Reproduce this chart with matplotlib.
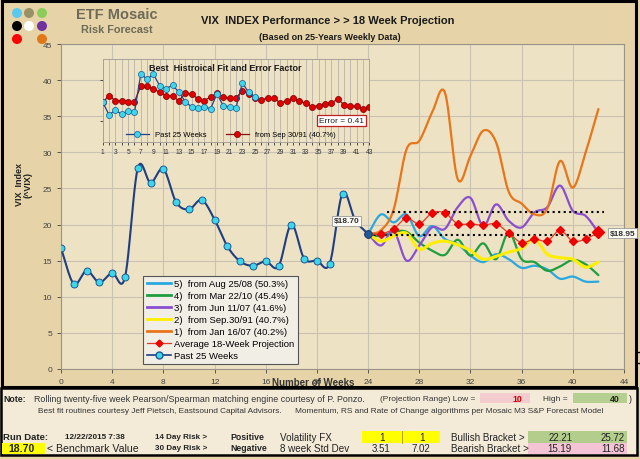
import numpy as np
import matplotlib.pyplot as plt
from matplotlib.patches import Rectangle, Circle
from matplotlib.lines import Line2D

plt.rcParams['font.family'] = ['Liberation Sans', 'DejaVu Sans']

W, H = 640, 460

# 过去25周 VIX
past_weeks = list(range(0, 25))
past_vix = [16.7, 11.8, 13.6, 12.0, 13.3, 12.7, 27.8, 25.8, 27.7, 23.1, 22.1, 23.4, 20.7,
            17.0, 14.9, 14.3, 14.9, 14.2, 20.0, 15.3, 15.0, 14.6, 24.3, 20.6, 18.7]

# 18周预测 (第24周到第42周)
proj_weeks = list(range(24, 43))
proj_aug0825 = [18.7, 21.4, 20.3, 21.4, 18.4, 19.8, 18.0, 17.3, 15.7, 14.8, 15.9, 15.2,
                14.0, 14.3, 13.8, 12.5, 12.8, 12.1, 12.1]
proj_mar2210 = [18.7, 18.4, 19.0, 19.0, 17.5, 16.4, 15.8, 17.9, 15.7, 17.4, 15.2, 18.9,
                15.2, 14.8, 13.6, 14.2, 15.1, 14.5, 13.0]
proj_jun1107 = [18.7, 17.1, 19.1, 15.0, 17.1, 19.6, 19.4, 22.4, 23.7, 19.8, 22.8, 20.5,
                19.6, 21.7, 22.4, 25.4, 21.9, 21.2, 18.9]
proj_sep3091 = [18.7, 17.7, 18.4, 18.8, 16.6, 17.4, 17.7, 17.2, 16.4, 15.2, 15.6, 16.2,
                16.7, 18.0, 15.9, 15.4, 15.2, 14.1, 14.8]
proj_jan1607 = [18.7, 19.2, 22.1, 30.4, 31.6, 35.5, 38.3, 26.3, 29.5, 33.0, 31.4, 24.5,
                22.9, 21.4, 22.2, 28.8, 25.1, 30.0, 36.0]
proj_avg = [18.7, 18.7, 19.4, 20.9, 20.1, 21.6, 21.6, 20.1, 20.1, 19.9, 20.1, 18.8,
            17.5, 18.0, 17.7, 19.2, 17.7, 18.0, 18.95]

upper_band = 21.8
lower_band = 18.6

legend_labels = ['5)  from Aug 25/08 (50.3%)', '4)  from Mar 22/10 (45.4%)',
                 '3)  from Jun 11/07 (41.6%)', '2)  from Sep.30/91 (40.7%)',
                 '1)  from Jan 16/07 (40.2%)']
line_colors = ['#2aa8e0', '#1f9e3e', '#8a4fd0', '#ffee00', '#e8751a']

# 小图：历史最佳拟合
fit_weeks = list(range(1, 44))
fit_sep3091 = [16.7, 19.3, 17.3, 17.3, 16.9, 16.9, 23.0, 23.0, 22.0, 20.6, 19.3, 19.1, 17.3,
               20.2, 20.0, 18.0, 17.3, 18.9, 20.2, 18.7, 18.3, 18.4, 21.2, 20.0, 18.3, 17.6,
               18.4, 18.4, 16.3, 17.3, 18.4, 17.1, 16.3, 15.0, 15.4, 16.0, 16.3, 18.0, 15.8,
               15.1, 15.1, 14.1, 14.7]
fit_error = 0.41


def smooth(x, y, n=12):
    # Catmull-Rom 平滑曲线 (类似Excel平滑线)
    x = np.asarray(x, float)
    y = np.asarray(y, float)
    ex = np.concatenate([[2 * x[0] - x[1]], x, [2 * x[-1] - x[-2]]])
    ey = np.concatenate([[2 * y[0] - y[1]], y, [2 * y[-1] - y[-2]]])
    t = np.linspace(0, 1, n, endpoint=False)
    xs, ys = [], []
    for i in range(1, len(ex) - 2):
        for arr, out in ((ex, xs), (ey, ys)):
            a0, a1, a2, a3 = arr[i - 1:i + 3]
            out.extend(0.5 * (2 * a1 + (-a0 + a2) * t + (2 * a0 - 5 * a1 + 4 * a2 - a3) * t ** 2
                              + (-a0 + 3 * a1 - 3 * a2 + a3) * t ** 3))
    xs.append(x[-1])
    ys.append(y[-1])
    return np.array(xs), np.array(ys)


def fx(px):
    return px / W


def fy(py):
    return 1 - py / H


fig = plt.figure(figsize=(6.4, 4.6), dpi=100)
fig.patch.set_facecolor('#e6d4a8')

# 背景层 (像素坐标)
bg = fig.add_axes([0, 0, 1, 1], zorder=0)
bg.set_xlim(0, W)
bg.set_ylim(H, 0)
bg.axis('off')
bg.add_patch(Rectangle((2, 2), 634, 386, fill=False, ec='black', lw=2.2))
bg.add_patch(Rectangle((1, 389), 636, 66.5, fc='#f3ebd8', ec='black', lw=1.8))
bg.plot([636, 640], [353, 353], color='black', lw=1)
bg.plot([636, 640], [364, 364], color='black', lw=1)

# logo 圆点
dots = [('#5bc8f0', 17, 14), ('#9a9068', 29, 14), ('#8ccc58', 42, 14),
        ('#000000', 17, 27), ('#ffffff', 29, 27), ('#7030a0', 42, 27),
        ('#ff0000', 17, 40), ('#e07818', 42, 40)]
for c, x, y in dots:
    bg.add_patch(Circle((x, y), 5, fc=c, ec='none'))

bg.text(117, 15, 'ETF Mosaic', fontsize=10.5, fontweight='bold', color='#6e6a58',
        ha='center', va='center')
bg.text(117, 30, 'Risk Forecast', fontsize=7.8, fontweight='bold', color='#6e6a58',
        ha='center', va='center')
bg.text(328, 21, 'VIX  INDEX Performance > > 18 Week Projection', fontsize=8, fontweight='bold',
        color='#1a1a1a', ha='center', va='center')
bg.text(330, 37, '(Based on 25-Years Weekly Data)', fontsize=6.5, fontweight='bold',
        color='#1a1a1a', ha='center', va='center')

# 主图
ax = fig.add_axes([fx(61), fy(370), fx(624 - 61), (370 - 45) / H], zorder=1)
ax.set_facecolor('#eee2c4')
ax.set_xlim(0, 44)
ax.set_ylim(0, 45)
ax.set_xticks(range(0, 45, 4))
ax.set_yticks(range(0, 46, 5))
ax.grid(True, color='#c9c1b2', lw=0.8)
ax.set_axisbelow(True)
for s in ax.spines.values():
    s.set_color('#9a9488')
ax.tick_params(labelsize=6, colors='#444444', length=3, width=0.6)

handles = []
for vals, c, lab in zip([proj_aug0825, proj_mar2210, proj_jun1107, proj_sep3091, proj_jan1607],
                        line_colors, legend_labels):
    sx, sy = smooth(proj_weeks, vals)
    lw = 2.2 if c == '#ffee00' else 1.6
    ax.plot(sx, sy, color=c, lw=lw, zorder=3, solid_capstyle='round')
    handles.append(Line2D([], [], color=c, lw=2.0, label=lab))

ax.plot([25.5, 42.4], [upper_band, upper_band], ls=':', color='black', lw=1.5, zorder=4)
ax.plot([24, 42], [lower_band, lower_band], ls=':', color='black', lw=1.5, zorder=4)

sx, sy = smooth(proj_weeks, proj_avg)
ax.plot(sx, sy, color='#e03a28', lw=0.9, zorder=5)
ax.plot(proj_weeks, proj_avg, ls='none', marker='D', ms=4.5, color='#ee0000', zorder=6)
ax.plot(proj_weeks[-1], proj_avg[-1], ls='none', marker='D', ms=6.5, color='#ee0000', zorder=6)
handles.append(Line2D([], [], color='#e03a28', lw=0.9, marker='D', ms=3.5, mfc='#ee0000',
                      mec='#ee0000', label='Average 18-Week Projection'))

sx, sy = smooth(past_weeks, past_vix)
ax.plot(sx, sy, color='#1f3f80', lw=1.5, zorder=5)
ax.plot(past_weeks[:-1], past_vix[:-1], ls='none', marker='o', ms=5, mfc='#3fd6ea',
        mec='#1a5a96', mew=0.7, zorder=6)
ax.plot(past_weeks[-1], past_vix[-1], ls='none', marker='o', ms=5.5, mfc='#1f5a9a',
        mec='#173e6e', mew=0.7, zorder=7)
handles.append(Line2D([], [], color='#1f3f80', lw=1.2, marker='o', ms=5, mfc='#3fd6ea',
                      mec='#1a5a96', label='Past 25 Weeks'))

lbl = dict(boxstyle='square,pad=0.2', fc='#fbfaf5', ec='#9a9a9a', lw=0.6)
ax.text(22.3, 20.5, '$18.70', fontsize=6, fontweight='bold', color='#333333',
        ha='center', va='center', bbox=lbl, zorder=8)
ax.text(43.9, 18.8, '$18.95', fontsize=6, fontweight='bold', color='#333333',
        ha='center', va='center', bbox=lbl, zorder=8, clip_on=False)

leg = ax.legend(handles=handles, loc='upper left', bbox_to_anchor=(0.137, 0.302), fontsize=6.8,
                frameon=True, fancybox=False, edgecolor='#555555', framealpha=1,
                handlelength=2.6, labelspacing=0.32, borderpad=0.4, handletextpad=0.3)
leg.get_frame().set_facecolor('#f1eee6')
leg.get_frame().set_linewidth(0.8)
leg.set_zorder(9)

ax.set_ylabel('VIX  Index\n(^VIX)', fontsize=6.5, fontweight='bold', color='#222222',
              linespacing=1.0)
ax.yaxis.set_label_coords(-0.05, 0.57)
bg.text(313, 383, 'Number of Weeks', fontsize=7, fontweight='bold', color='#333333',
        ha='center', va='center', zorder=5)

# 小图
ins = fig.add_axes([fx(102.7), fy(143.3), fx(369.3 - 102.7), (143.3 - 60) / H], zorder=2)
ins.set_facecolor('#eee2c4')
ins.set_xlim(1, 43)
ins.set_ylim(1.0, 33.7)
ins.set_xticks(fit_weeks)
ins.set_xticklabels([str(w) if w % 2 == 1 else '' for w in fit_weeks])
ins.set_yticks([9.25, 25.45])
ins.set_yticklabels([])
ins.grid(True, axis='x', color='#b8b2a8', lw=0.6)
ins.set_axisbelow(True)
for s in ins.spines.values():
    s.set_color('#a8a29a')
    s.set_linewidth(0.7)
ins.tick_params(labelsize=4.8, colors='#333333', length=2.5, width=0.6, pad=1.5)
ins.plot(fit_weeks, fit_sep3091, color='#8a1010', lw=0.9, marker='o', ms=4.4,
         mfc='#e00000', mec='#7a0000', mew=0.5, zorder=3, label='from Sep 30/91 (40.7%)')
ins.plot(fit_weeks[:25], past_vix, color='#24408a', lw=0.9, marker='o', ms=4.4,
         mfc='#3fd6ea', mec='#1a5a96', mew=0.5, zorder=4, label='Past 25 Weeks')
ins.text(0.46, 0.9, 'Best  Histroical Fit and Error Factor', transform=ins.transAxes,
         fontsize=6.5, fontweight='bold', color='#1a1a1a', ha='center', va='center')
ins.text(0.895, 0.26, 'Error = %.2f' % fit_error, transform=ins.transAxes, fontsize=6,
         color='#222222', ha='center', va='center', zorder=6,
         bbox=dict(boxstyle='square,pad=0.25', fc='white', ec='#c02020', lw=0.9))
h, l = ins.get_legend_handles_labels()
ins.legend(h[::-1], l[::-1], loc='center', bbox_to_anchor=(0.48, 0.09), ncol=2,
           frameon=False, fontsize=5.5, handlelength=3, columnspacing=2.5,
           handletextpad=0.8, borderaxespad=0)


# 底部表格
def t(x, y, s, size=7.2, bold=False, color='#222222', ha='left'):
    bg.text(x, y, s, fontsize=size, fontweight='bold' if bold else 'normal', color=color,
            ha=ha, va='center')


r1, r2, r3, r4 = 399.5, 411.5, 438, 449

bg.add_patch(Rectangle((480, 394), 50, 10, fc='#f2cccf', ec='none'))
bg.add_patch(Rectangle((573, 394), 54, 10, fc='#b4cf90', ec='none'))
t(3, r1, 'Note:', size=6.3, bold=True)
t(34, r1, 'Rolling twenty-five week Pearson/Spearman matching engine courtesy of P. Ponzo.',
  size=6.4, color='#333333')
t(380, r1, '(Projection Range) Low =', size=6.0, color='#333333')
t(522, r1, '10', size=6.3, bold=True, color='#cc0000', ha='right')
t(543, r1, 'High =', size=6.0, color='#333333')
t(620, r1, '40', size=6.3, bold=True, ha='right')
t(629, r1, ')', size=6.3)
t(38, r2, 'Best fit routines courtesy Jeff Pietsch, Eastsound Capital Advisors.      '
          'Momentum, RS and Rate of Change algorithms per Mosaic M3 S&P Forecast Model',
  size=5.95, color='#333333')

bg.add_patch(Rectangle((362, 432), 78, 11.5, fc='#ffff00', ec='none'))
bg.plot([402, 402], [432, 443.5], color='#b8a000', lw=0.7)
bg.add_patch(Rectangle((2, 444), 43, 11, fc='#ffff00', ec='none'))
bg.add_patch(Rectangle((528, 432), 99, 11.5, fc='#b2cd8c', ec='none'))
bg.add_patch(Rectangle((528, 443.5), 99, 11.5, fc='#f4c4d6', ec='none'))

t(3, r3, 'Run Date:', size=6.8, bold=True)
t(125, r3, '12/22/2015 7:38', size=5.9, bold=True, ha='right')
t(155, r3, '14 Day Risk >', size=5.8, bold=True)
t(230, r3, 'Positive', size=6.3, bold=True)
t(280, r3, 'Volatility FX', size=7.1)
t(382, r3, '1', size=7.1, ha='center')
t(422, r3, '1', size=7.1, ha='center')
t(451, r3, 'Bullish Bracket >', size=7.1)
t(573, r3, '22.21', size=7.0, ha='right')
t(625, r3, '25.72', size=7.0, ha='right')

t(22, r4, '18.70', size=7.6, bold=True, ha='center')
t(47, r4, '< Benchmark Value', size=7.6)
t(155, r4, '30 Day Risk >', size=5.8, bold=True)
t(230, r4, 'Negative', size=6.3, bold=True)
t(280, r4, '8 week Std Dev', size=7.1)
t(390, r4, '3.51', size=7.0, ha='right')
t(430, r4, '7.02', size=7.0, ha='right')
t(451, r4, 'Bearish Bracket >', size=7.1)
t(572, r4, '15.19', size=7.0, ha='right')
t(625, r4, '11.68', size=7.0, ha='right')

plt.savefig('out.png', dpi=100, facecolor=fig.get_facecolor())
